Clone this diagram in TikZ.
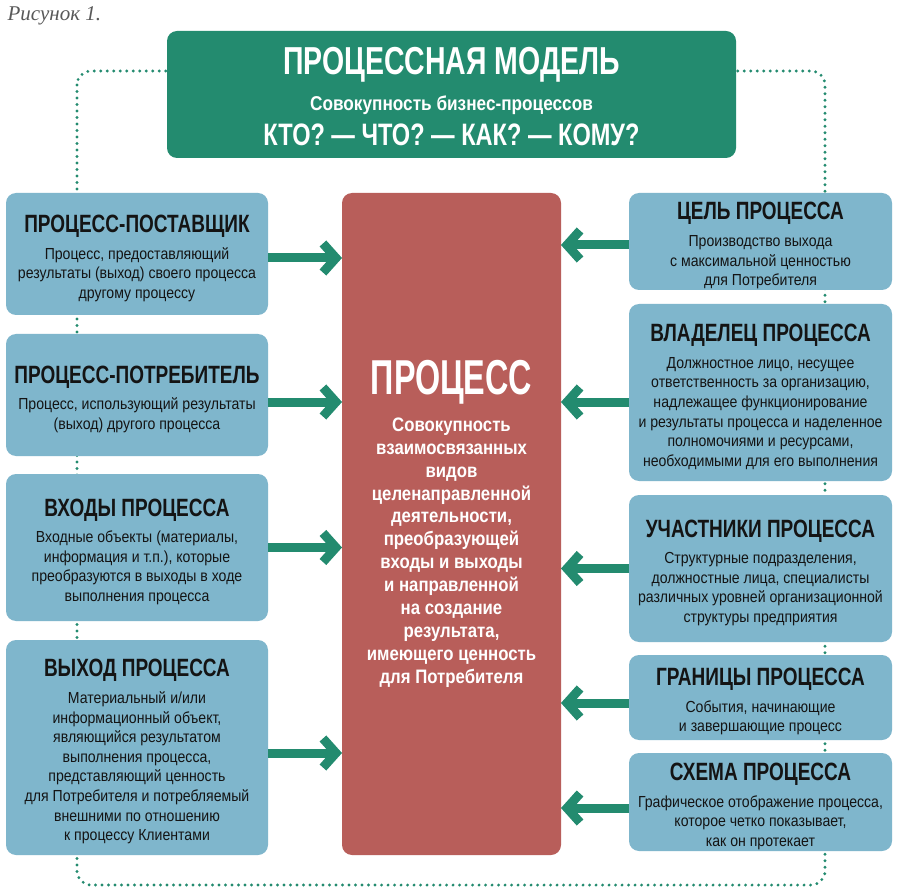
\documentclass[tikz,border=0pt]{standalone}
\usepackage{fontspec}
\setmainfont{Liberation Sans}
\newfontfamily\capfont{Liberation Serif}
\newfontfamily\bodyfont[FakeStretch=0.88]{Liberation Sans}
\newfontfamily\subfont[FakeStretch=0.86]{Liberation Sans}
\newfontfamily\headfont[FakeStretch=0.76]{Liberation Sans}
\newfontfamily\titlefont[FakeStretch=0.73]{Liberation Sans}
\newfontfamily\bigfont[FakeStretch=0.66]{Liberation Sans}
\usetikzlibrary{arrows.meta}
\definecolor{modelgreen}{RGB}{35,139,111}
\definecolor{cardblue}{RGB}{127,182,204}
\definecolor{procred}{RGB}{184,94,90}
\tikzset{
 card/.style={fill=cardblue, rounded corners=10pt, inner sep=0pt, outer sep=0pt,
   minimum width=262pt, align=center, text=black!92,
   font=\bodyfont\fontsize{16}{19.6}\selectfont},
 model/.style={fill=modelgreen, rounded corners=10pt, inner sep=0pt, outer sep=0pt,
   minimum width=569pt, minimum height=127pt, align=center, text=white},
 core/.style={fill=procred, rounded corners=10pt, inner sep=0pt, outer sep=0pt,
   minimum width=219pt, minimum height=662pt, align=center, text=white,
   font=\subfont\bfseries\fontsize{19.5}{22.9}\selectfont},
 link/.style={draw=modelgreen, line width=9pt,
   -{Straight Barb[length=13pt,width=29pt,sharp]}},
 dotline/.style={draw=modelgreen, line width=3.2pt, line cap=round,
   dash pattern=on 0pt off 6.5pt},
}
\newcommand{\hd}[1]{{\headfont\bfseries\fontsize{25}{25}\selectfont\rule{0pt}{26pt}#1}\\[7pt]}

\begin{document}
\begin{tikzpicture}[x=1pt,y=-1pt]
\useasboundingbox (0,0) rectangle (900,893);
\fill[white] (0,0) rectangle (900,893);

% dotted frame behind the boxes
\draw[dotline, rounded corners=14pt] (77,71) rectangle (825,885);

\node[anchor=base west, font=\capfont\itshape\fontsize{21}{21}\selectfont, text=black!65]
  (fig) at (4,21) {Рисунок 1.};

\node[model] (pm) at (451.5,94.5) {%
  {\titlefont\bfseries\fontsize{39}{39}\selectfont\rule{0pt}{31.5pt}ПРОЦЕССНАЯ МОДЕЛЬ}\\[12pt]
  {\subfont\bfseries\fontsize{20}{20}\selectfont Совокупность бизнес-процессов}\\[8pt]
  {\headfont\bfseries\fontsize{31}{31}\selectfont КТО? — ЧТО? — КАК? — КОМУ?}};

\node[core] (proc) at (451.5,524) {%
  {\bigfont\bfseries\fontsize{49}{49}\selectfont ПРОЦЕСС}\\[12pt]
  Совокупность\\ взаимосвязанных\\ видов\\ целенаправленной\\ деятельности,\\
  преобразующей\\ входы и выходы\\ и направленной\\ на создание\\ результата,\\
  имеющего ценность\\ для Потребителя};

% left column
\node[card, minimum height=122pt] (sup) at (137,254) {\hd{ПРОЦЕСС-ПОСТАВЩИК}
  Процесс, предоставляющий\\ результаты (выход) своего процесса\\ другому процессу};
\node[card, minimum height=122pt] (con) at (137,395) {\hd{ПРОЦЕСС-ПОТРЕБИТЕЛЬ}
  Процесс, использующий результаты\\ (выход) другого процесса};
\node[card, minimum height=147pt] (inp) at (137,547.5) {\hd{ВХОДЫ ПРОЦЕССА}
  Входные объекты (материалы,\\ информация и т.п.), которые\\
  преобразуются в выходы в ходе\\ выполнения процесса};
\node[card, minimum height=215pt] (out) at (137,747.5) {\hd{ВЫХОД ПРОЦЕССА}
  Материальный и/или\\ информационный объект,\\ являющийся результатом\\
  выполнения процесса,\\ представляющий ценность\\ для Потребителя и потребляемый\\
  внешними по отношению\\ к процессу Клиентами};

% right column
\node[card, minimum width=263pt, minimum height=97pt] (goal) at (760.5,241.5) {\hd{ЦЕЛЬ ПРОЦЕССА}
  Производство выхода\\ с максимальной ценностью\\ для Потребителя};
\node[card, minimum width=263pt, minimum height=177pt] (own) at (760.5,392.5) {\hd{ВЛАДЕЛЕЦ ПРОЦЕССА}
  Должностное лицо, несущее\\ ответственность за организацию,\\ надлежащее функционирование\\
  и результаты процесса и наделенное\\ полномочиями и ресурсами,\\ необходимыми для его выполнения};
\node[card, minimum width=263pt, minimum height=147pt] (par) at (760.5,568.5) {\hd{УЧАСТНИКИ ПРОЦЕССА}
  Структурные подразделения,\\ должностные лица, специалисты\\
  различных уровней организационной\\ структуры предприятия};
\node[card, minimum width=263pt, minimum height=85pt] (lim) at (760.5,697.5) {\hd{ГРАНИЦЫ ПРОЦЕССА}
  События, начинающие\\ и завершающие процесс};
\node[card, minimum width=263pt, minimum height=98pt] (map) at (760.5,802) {\hd{СХЕМА ПРОЦЕССА}
  Графическое отображение процесса,\\ которое четко показывает,\\ как он протекает};

% arrows into the process
\foreach \b/\s in {sup/-4, con/-7, inp/0, out/-5.5}
  \draw[link] ([yshift=\s pt]\b.east) -- ([yshift=\s pt]\b.east -| proc.west);
\foreach \b/\s in {goal/-3.5, own/-9.5, par/0, lim/-5.5, map/-6}
  \draw[link] ([yshift=\s pt]\b.west) -- ([yshift=\s pt]\b.west -| proc.east);
\end{tikzpicture}
\end{document}
